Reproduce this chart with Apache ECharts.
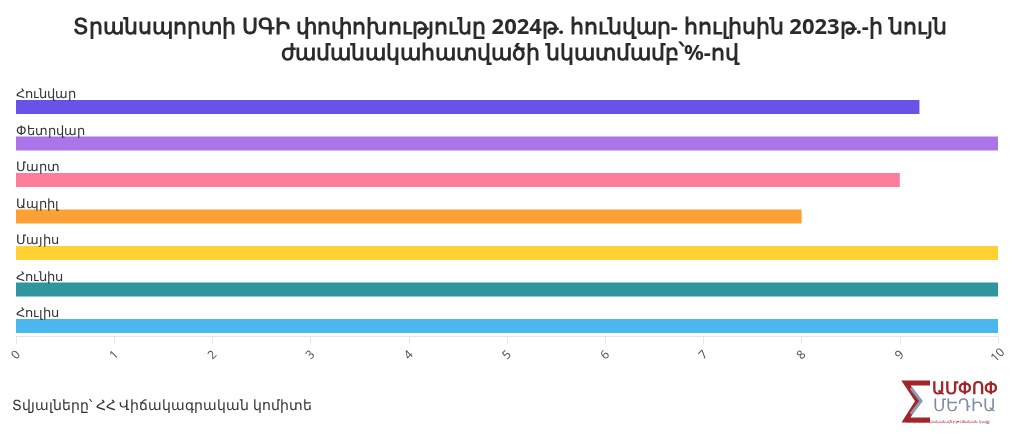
<!DOCTYPE html>
<html>
<head>
<meta charset="utf-8">
<script src="https://cdn.jsdelivr.net/npm/echarts@6/dist/echarts.min.js"></script>
<style>
html,body{margin:0;padding:0;background:#fff;}
#c{width:1020px;height:440px;}
</style>
</head>
<body>
<div id="c"></div>
<script>
const months = ['Հունվար','Փետրվար','Մարտ','Ապրիլ','Մայիս','Հունիս','Հուլիս'];
const values = [9.2, 10, 9.0, 8.0, 10, 10, 10];
const colors = ['#6852e8','#ab75ea','#fb7f9a','#fda035','#ffd233','#2f959f','#4ab7ee'];
const xTicks = [0,1,2,3,4,5,6,7,8,9,10];
const titleText = 'Տրանսպորտի ՍԳԻ փոփոխությունը 2024թ. հունվար- հուլիսին 2023թ.-ի նույն\nժամանակահատվածի նկատմամբ՝%-ով';
const sourceText = 'Տվյալները՝ ՀՀ Վիճակագրական կոմիտե';

const chart = echarts.init(document.getElementById('c'), null, {renderer:'canvas'});
chart.setOption({
  backgroundColor:'#fff',
  animation:false,
  title:{
    text:titleText,
    left:'center', top:10,
    textStyle:{fontFamily:'Noto Sans', fontWeight:'bold', fontSize:22, color:'#2b2b2b', lineHeight:26}
  },
  grid:{left:16, right:22, top:88.75, height:255.5, containLabel:false},
  xAxis:{
    type:'value', min:xTicks[0], max:xTicks[xTicks.length-1], interval:1,
    offset:-8,
    axisLine:{show:true, lineStyle:{color:'#e6e6e6'}},
    axisTick:{show:true, length:8, lineStyle:{color:'#e6e6e6'}},
    splitLine:{show:false},
    axisLabel:{rotate:45, align:'center', verticalAlign:'middle', fontSize:12, color:'#555', fontFamily:'Noto Sans', margin:19}
  },
  yAxis:{
    type:'category', data:months, inverse:true,
    axisLine:{show:false}, axisTick:{show:false}, axisLabel:{show:false}, splitLine:{show:false}
  },
  series:[{
    type:'bar', barWidth:14,
    data: values.map((v,i)=>({value:v, itemStyle:{color:colors[i]}})),
    label:{show:true, position:[0,1], align:'left', verticalAlign:'bottom', formatter:'{b}', fontSize:13, color:'#333', fontFamily:'Noto Sans'}
  }],
  graphic:[
    {type:'text', left:12, top:399, style:{text:sourceText, fontSize:14, fill:'#333', fontFamily:'Noto Sans'}},
    {type:'polyline', shape:{points:[[930,383],[906,383],[918,401],[906,420],[930,420]]}, style:{stroke:'#a0262b', lineWidth:5, fill:null}},
    {type:'polyline', shape:{points:[[911,388],[921,401],[911,414]]}, style:{stroke:'#8a9bb0', lineWidth:3, fill:null}},
    {type:'text', left:932, top:381, style:{text:'ԱՄՓՈՓ', fontSize:17, fontWeight:'bold', fill:'#a0262b', fontFamily:'Noto Sans'}},
    {type:'text', left:933, top:398, style:{text:'ՄԵԴԻԱ', fontSize:17, fill:'#7d8ea6', fontFamily:'Noto Sans'}},
    {type:'text', left:906, top:420, style:{text:'Տեղեկատվական-վերլուծական կայք', fontSize:4, fill:'#a0262b', fontFamily:'Noto Sans'}}
  ]
});
</script>
</body>
</html>
